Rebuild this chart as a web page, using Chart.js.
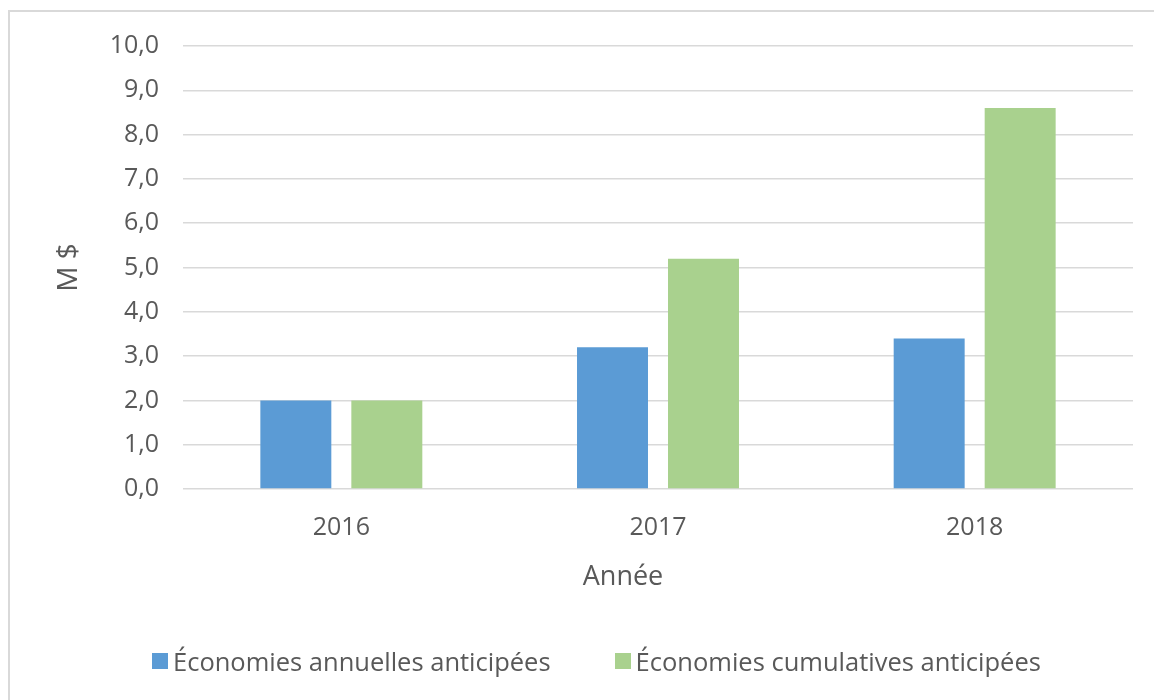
<!DOCTYPE html>
<html><head><meta charset="utf-8">
<script src="https://cdn.jsdelivr.net/npm/chart.js@4"></script>
<style>
html,body{margin:0;padding:0;background:#fff;}
#wrap{position:relative;width:1154px;height:700px;overflow:hidden;}
#frame{position:absolute;left:8px;top:10px;width:1200px;height:800px;border:2px solid #d9d9d9;box-sizing:border-box;}
canvas{position:absolute;left:0;top:0;}
#legend{position:absolute;left:152px;top:642px;height:37px;display:flex;align-items:center;gap:64px;
  font-family:"Open Sans";font-size:25.5px;color:#595959;white-space:nowrap;}
#legend .item{display:flex;align-items:center;}
#legend .box{width:16px;height:16px;margin-right:5px;}
</style></head>
<body><div id="wrap"><div id="frame"></div><canvas id="c" width="1154" height="700"></canvas><div id="legend"></div></div>
<script>
const categories = ['2016', '2017', '2018'];
const annualSavings = [2.0, 3.2, 3.4];
const cumulativeSavings = [2.0, 5.2, 8.6];
const seriesNames = ['Économies annuelles anticipées', 'Économies cumulatives anticipées'];
const seriesColors = ['#5B9BD5', '#A9D18E'];
const yTitle = 'M $';
const xTitle = 'Année';
const yMin = 0, yMax = 10, yStep = 1;

const textColor = '#595959';
const gridColor = '#d9d9d9';

const xTitlePlugin = {
  id: 'xTitle',
  afterDraw(chart) {
    const {ctx, chartArea} = chart;
    ctx.save();
    ctx.font = '27px "Open Sans"';
    ctx.fillStyle = textColor;
    ctx.textAlign = 'center';
    ctx.textBaseline = 'alphabetic';
    ctx.fillText(xTitle, (chartArea.left + chartArea.right) / 2 - 35, 585);
    ctx.restore();
  }
};

const chart = new Chart(document.getElementById('c'), {
  type: 'bar',
  data: {
    labels: categories,
    datasets: [
      { label: seriesNames[0], data: annualSavings, backgroundColor: seriesColors[0], borderWidth: 0 },
      { label: seriesNames[1], data: cumulativeSavings, backgroundColor: seriesColors[1], borderWidth: 0 }
    ]
  },
  plugins: [xTitlePlugin],
  options: {
    responsive: false,
    animation: false,
    layout: { padding: { top: 46, right: 21, bottom: 111, left: 0 } },
    datasets: { bar: { categoryPercentage: 0.5747, barPercentage: 0.78 } },
    plugins: {
      tooltip: { enabled: false },
      legend: { display: false }
    },
    scales: {
      x: {
        grid: { display: false, drawTicks: false },
        border: { display: false },
        ticks: { color: textColor, font: { family: 'Open Sans', size: 25 }, padding: 24 },
        afterFit(s) { s.height = 100; }
      },
      y: {
        min: yMin, max: yMax,
        ticks: {
          stepSize: yStep, color: textColor, padding: 24,
          font: { family: 'Open Sans', size: 25 },
          callback: v => Number(v).toFixed(1).replace('.', ',')
        },
        grid: { color: gridColor, lineWidth: 1.5, drawTicks: false },
        border: { display: false },
        title: { display: true, text: yTitle, color: textColor, font: { family: 'Open Sans', size: 28 }, padding: { top: 52, bottom: 0 } },
        afterFit(s) { s.width = 183; }
      }
    }
  }
});

// legend built from the chart's own datasets
const legendEl = document.getElementById('legend');
chart.data.datasets.forEach(ds => {
  const item = document.createElement('div');
  item.className = 'item';
  const box = document.createElement('span');
  box.className = 'box';
  box.style.background = ds.backgroundColor;
  const txt = document.createElement('span');
  txt.textContent = ds.label;
  item.appendChild(box);
  item.appendChild(txt);
  legendEl.appendChild(item);
});
</script>
</body></html>
